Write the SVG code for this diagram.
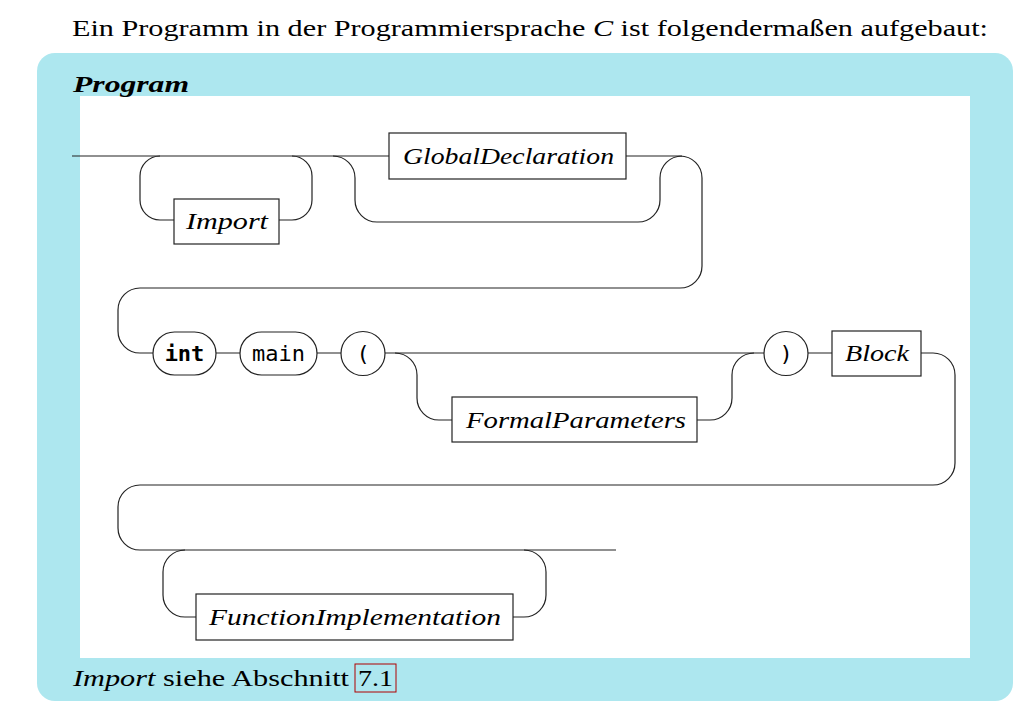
<svg xmlns="http://www.w3.org/2000/svg" width="1025" height="702" viewBox="0 0 1025 702">
<style>
.t{font-family:"Liberation Serif","DejaVu Serif",serif;fill:#000}
.i{font-style:italic}
.m{font-family:"DejaVu Sans Mono","Liberation Mono",monospace;font-size:22px;fill:#000}
.box{fill:#fff;stroke:#222;stroke-width:1.2}
.c{fill:none;stroke:#222;stroke-width:1.2}
</style>
<rect width="1025" height="702" fill="#fff"/>
<text class="t" x="72" y="36" font-size="24" textLength="916" lengthAdjust="spacingAndGlyphs">Ein Programm in der Programmiersprache <tspan class="i">C</tspan> ist folgendermaßen aufgebaut:</text>
<rect x="37" y="53" width="976" height="648" rx="18" fill="#ade7ef"/>
<rect x="80" y="96" width="890" height="562" fill="#fff"/>
<text class="t i" x="73" y="92" font-size="24" font-weight="bold" textLength="116" lengthAdjust="spacingAndGlyphs">Program</text>

<g id="connectors">
<path class="c" d="M72,156 H389"/>
<path class="c" d="M160,156 A20,20 0 0 0 140,176 V200 A20,20 0 0 0 160,220 H174 M279,220 H292 A20,20 0 0 0 312,200 V176 A20,20 0 0 0 292,156"/>
<path class="c" d="M626,156 H680"/>
<path class="c" d="M333,156 A22,22 0 0 1 355,178 V200 A22,22 0 0 0 377,222 H638 A22,22 0 0 0 660,200 V178 A22,22 0 0 1 682,156"/>
<path class="c" d="M680,156 A22,22 0 0 1 702,178 V266 A22,22 0 0 1 680,288 H140 A22,22 0 0 0 118,310 V331 A22,22 0 0 0 140,353 H153"/>
<path class="c" d="M216,353 H240 M317,353 H341 M385,353 H764 M808,353 H832"/>
<path class="c" d="M395,353 A22,22 0 0 1 417,375 V398 A22,22 0 0 0 439,420 H452 M697,420 H710 A22,22 0 0 0 732,398 V375 A22,22 0 0 1 754,353"/>
<path class="c" d="M921,353 H933 A22,22 0 0 1 955,375 V463 A22,22 0 0 1 933,485 H140 A22,22 0 0 0 118,507 V528 A22,22 0 0 0 140,550 H616"/>
<path class="c" d="M185,550 A22,22 0 0 0 163,572 V595 A22,22 0 0 0 185,617 H196 M513,617 H524 A22,22 0 0 0 546,595 V572 A22,22 0 0 0 524,550"/>
</g>

<g id="import">
<rect class="box" x="174" y="199" width="105" height="45"/>
<text class="t i" x="186" y="229" font-size="24" textLength="82" lengthAdjust="spacingAndGlyphs">Import</text>
</g>
<g id="globaldeclaration">
<rect class="box" x="389" y="133" width="237" height="46"/>
<text class="t i" x="403" y="164" font-size="24" textLength="211" lengthAdjust="spacingAndGlyphs">GlobalDeclaration</text>
</g>
<g id="int">
<rect class="box" x="153" y="332" width="63" height="43" rx="21.5"/>
<text class="m" x="184.5" y="361" text-anchor="middle" font-weight="bold">int</text>
</g>
<g id="main">
<rect class="box" x="240" y="332" width="77" height="43" rx="21.5"/>
<text class="m" x="278.5" y="361" text-anchor="middle">main</text>
</g>
<g id="lparen">
<circle class="box" cx="363" cy="353.5" r="22"/>
<text class="m" x="363" y="361" text-anchor="middle">(</text>
</g>
<g id="formalparameters">
<rect class="box" x="452" y="397" width="245" height="45"/>
<text class="t i" x="466" y="428" font-size="24" textLength="220" lengthAdjust="spacingAndGlyphs">FormalParameters</text>
</g>
<g id="rparen">
<circle class="box" cx="786" cy="353.5" r="22"/>
<text class="m" x="786" y="361" text-anchor="middle">)</text>
</g>
<g id="block">
<rect class="box" x="832" y="331" width="89" height="45"/>
<text class="t i" x="845" y="361" font-size="24" textLength="64" lengthAdjust="spacingAndGlyphs">Block</text>
</g>
<g id="functionimplementation">
<rect class="box" x="196" y="594" width="317" height="46"/>
<text class="t i" x="209" y="625" font-size="24" textLength="292" lengthAdjust="spacingAndGlyphs">FunctionImplementation</text>
</g>

<g id="footer">
<text class="t" x="73" y="686" font-size="24" textLength="276" lengthAdjust="spacingAndGlyphs"><tspan class="i">Import</tspan> siehe Abschnitt</text>
<rect x="355" y="664" width="41" height="28" fill="none" stroke="#b00000" stroke-width="1"/>
<text class="t" x="358" y="686" font-size="24" textLength="35" lengthAdjust="spacingAndGlyphs">7.1</text>
</g>
</svg>
